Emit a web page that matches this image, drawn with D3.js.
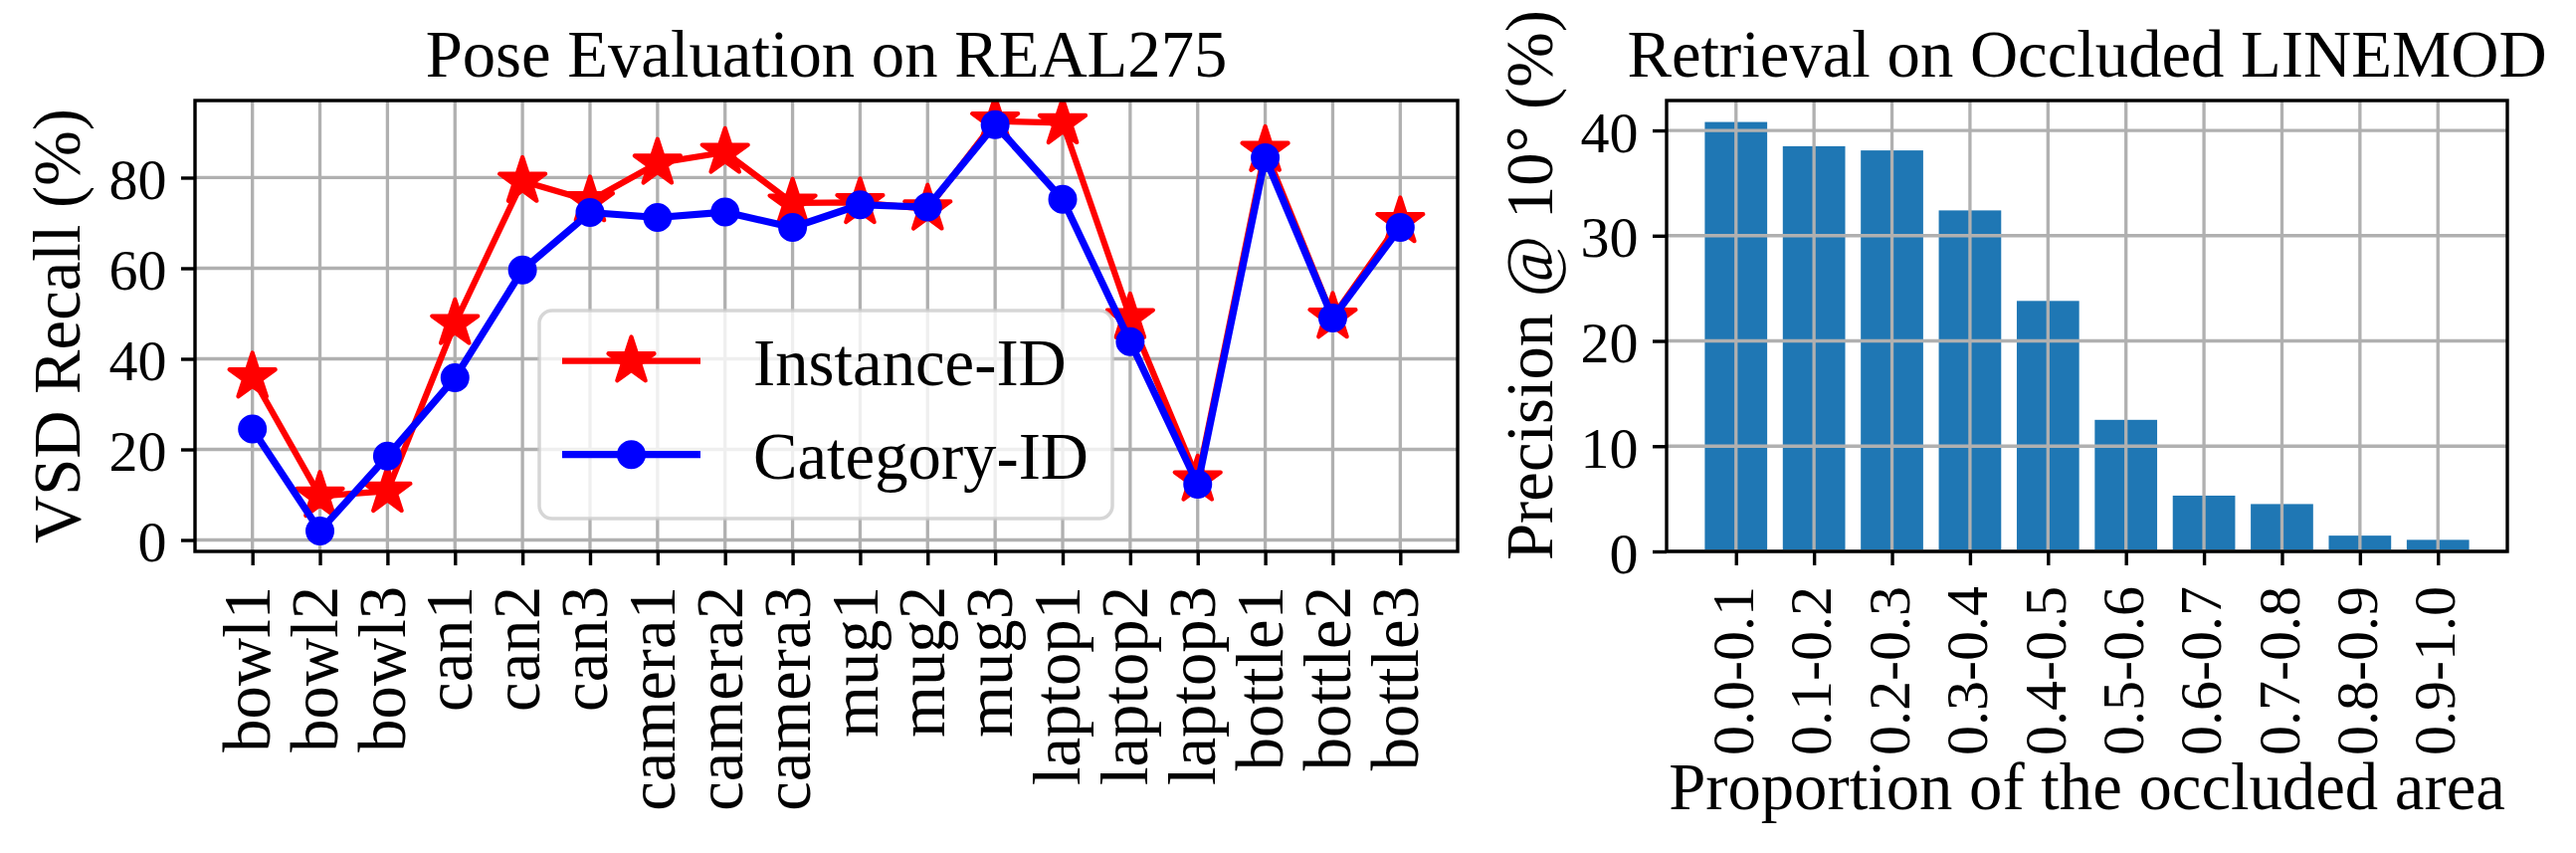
<!DOCTYPE html>
<html>
<head>
<meta charset="utf-8">
<script src="https://cdn.jsdelivr.net/npm/d3@7"></script>
<style>
  html, body { margin: 0; padding: 0; background: #ffffff; }
  svg { display: block; }
  text { font-family: "Liberation Serif", "Times New Roman", Times, serif; fill: #000; }
</style>
</head>
<body>
<svg id="chart" width="2589" height="857"></svg>
<script>
// ---------------- data ----------------
const categories = ["bowl1","bowl2","bowl3","can1","can2","can3","camera1","camera2","camera3",
                    "mug1","mug2","mug3","laptop1","laptop2","laptop3","bottle1","bottle2","bottle3"];
const instanceID = [36.0, 9.7, 10.8, 47.8, 79.2, 74.9, 83.2, 85.6, 74.4, 74.5, 73.1, 92.5, 92.1, 49.1, 13.3, 86.0, 49.2, 70.3];
const categoryID = [24.5, 2.0, 18.5, 35.8, 59.6, 72.3, 71.2, 72.4, 69.0, 74.0, 73.5, 91.7, 75.2, 43.8, 12.3, 84.4, 49.0, 69.0];
const leftYTicks = [0, 20, 40, 60, 80];
const seriesNames = ["Instance-ID", "Category-ID"];

const occlusionBins = ["0.0-0.1","0.1-0.2","0.2-0.3","0.3-0.4","0.4-0.5","0.5-0.6","0.6-0.7","0.7-0.8","0.8-0.9","0.9-1.0"];
const precision10 = [40.8, 38.5, 38.1, 32.4, 23.8, 12.5, 5.3, 4.5, 1.5, 1.1];
const rightYTicks = [0, 10, 20, 30, 40];

// ---------------- setup ----------------
const svg = d3.select("#chart");
svg.append("rect").attr("width", 2589).attr("height", 857).attr("fill", "#fff");

const GRID = "#b0b0b0", GRID_W = 3.3, SPINE_W = 3.4, TICK_LEN = 14;

// ============ LEFT: Pose Evaluation ============
const L = {x0: 196, x1: 1465, y0: 101, y1: 554};
const xL = d3.scalePoint().domain(categories).range([L.x0, L.x1]).padding(0.85);
const allVals = instanceID.concat(categoryID);
const [vmin, vmax] = d3.extent(allVals);
const pad = (vmax - vmin) * 0.05;
const yL = d3.scaleLinear().domain([vmin - pad, vmax + pad]).range([L.y1, L.y0]);

const gL = svg.append("g");
svg.append("clipPath").attr("id", "clipL").append("rect")
  .attr("x", L.x0).attr("y", L.y0).attr("width", L.x1 - L.x0).attr("height", L.y1 - L.y0);

// grid
gL.selectAll(".vgrid").data(categories).join("line")
  .attr("x1", d => xL(d)).attr("x2", d => xL(d)).attr("y1", L.y0).attr("y2", L.y1)
  .attr("stroke", GRID).attr("stroke-width", GRID_W);
gL.selectAll(".hgrid").data(leftYTicks).join("line")
  .attr("x1", L.x0).attr("x2", L.x1).attr("y1", d => yL(d)).attr("y2", d => yL(d))
  .attr("stroke", GRID).attr("stroke-width", GRID_W);

// series
const plotL = gL.append("g").attr("clip-path", "url(#clipL)");
const lineGen = d3.line().x((d, i) => xL(categories[i])).y(d => yL(d));
const starR = 24.2, circR = 12.4, mew = 4.2;
const starPath = d3.symbol(d3.symbolStar, starR * starR / 0.8908130915292852)();
const circPath = d3.symbol(d3.symbolCircle, Math.PI * circR * circR)();

plotL.append("path").datum(instanceID).attr("d", lineGen)
  .attr("fill", "none").attr("stroke", "#ff0000").attr("stroke-width", 6.25).attr("stroke-linejoin", "round");
plotL.selectAll(".star").data(instanceID).join("path")
  .attr("d", starPath)
  .attr("transform", (d, i) => `translate(${xL(categories[i])},${yL(d)})`)
  .attr("fill", "#ff0000").attr("stroke", "#ff0000").attr("stroke-width", mew).attr("stroke-linejoin", "round");

plotL.append("path").datum(categoryID).attr("d", lineGen)
  .attr("fill", "none").attr("stroke", "#0000ff").attr("stroke-width", 7.2).attr("stroke-linejoin", "round");
plotL.selectAll(".circ").data(categoryID).join("path")
  .attr("d", circPath)
  .attr("transform", (d, i) => `translate(${xL(categories[i])},${yL(d)})`)
  .attr("fill", "#0000ff").attr("stroke", "#0000ff").attr("stroke-width", mew);

// spines
gL.append("rect").attr("x", L.x0).attr("y", L.y0).attr("width", L.x1 - L.x0).attr("height", L.y1 - L.y0)
  .attr("fill", "none").attr("stroke", "#000").attr("stroke-width", SPINE_W);

// axes
const axLx = gL.append("g").attr("transform", `translate(0,${L.y1})`)
  .call(d3.axisBottom(xL).tickSize(TICK_LEN).tickSizeOuter(0));
const axLy = gL.append("g").attr("transform", `translate(${L.x0},0)`)
  .call(d3.axisLeft(yL).tickValues(leftYTicks).tickSize(TICK_LEN).tickSizeOuter(0));
[axLx, axLy].forEach(a => {
  a.select(".domain").remove();
  a.selectAll(".tick line").attr("stroke", "#000").attr("stroke-width", SPINE_W);
});
axLx.selectAll(".tick text")
  .attr("transform", "rotate(-90)").attr("text-anchor", "end")
  .attr("x", -35).attr("y", 16.7).attr("dy", null)
  .style("font-size", "66.7px").style("font-family", '"Liberation Serif", serif');
axLy.selectAll(".tick text")
  .attr("x", -28.6).attr("dy", null).attr("y", 21)
  .style("font-size", "58px").style("font-family", '"Liberation Serif", serif');

// legend
const lg = gL.append("g");
lg.append("rect").attr("x", 542).attr("y", 312).attr("width", 576).attr("height", 209).attr("rx", 13)
  .attr("fill", "#fff").attr("fill-opacity", 0.8)
  .attr("stroke", "#cccccc").attr("stroke-opacity", 0.8).attr("stroke-width", 3.5);
const legRows = [
  {name: seriesNames[0], color: "#ff0000", path: starPath, y: 362.7, w: 6.25},
  {name: seriesNames[1], color: "#0000ff", path: circPath, y: 456.7, w: 7.2}
];
legRows.forEach(r => {
  lg.append("line").attr("x1", 565).attr("x2", 704).attr("y1", r.y).attr("y2", r.y)
    .attr("stroke", r.color).attr("stroke-width", r.w);
  lg.append("path").attr("d", r.path).attr("transform", `translate(634.5,${r.y})`)
    .attr("fill", r.color).attr("stroke", r.color).attr("stroke-width", mew).attr("stroke-linejoin", "round");
  lg.append("text").attr("x", 757).attr("y", r.y + 24.5).style("font-size", "66.7px").text(r.name);
});

// title & labels
gL.append("text").attr("x", (L.x0 + L.x1) / 2).attr("y", 77).attr("text-anchor", "middle")
  .style("font-size", "66.7px").text("Pose Evaluation on REAL275");
gL.append("text").attr("transform", `translate(80,${(L.y0 + L.y1) / 2}) rotate(-90)`)
  .attr("text-anchor", "middle").style("font-size", "66.7px").text("VSD Recall (%)");

// ============ RIGHT: Retrieval ============
const R = {x0: 1675, x1: 2520, y0: 101, y1: 554};
const idx = d3.range(occlusionBins.length);
const xR = d3.scaleLinear().domain([-0.4 - 0.05 * 9.8, 9.4 + 0.05 * 9.8]).range([R.x0, R.x1]);
const yR = d3.scaleLinear().domain([0, d3.max(precision10) * 1.05]).range([R.y1, R.y0]);
const gR = svg.append("g");

gR.selectAll(".bar").data(precision10).join("rect")
  .attr("x", (d, i) => xR(i - 0.4)).attr("width", (d, i) => xR(i + 0.4) - xR(i - 0.4))
  .attr("y", d => yR(d)).attr("height", d => yR(0) - yR(d))
  .attr("fill", "#1f77b4");

gR.selectAll(".vgrid").data(idx).join("line")
  .attr("x1", d => xR(d)).attr("x2", d => xR(d)).attr("y1", R.y0).attr("y2", R.y1)
  .attr("stroke", GRID).attr("stroke-width", GRID_W);
gR.selectAll(".hgrid").data(rightYTicks).join("line")
  .attr("x1", R.x0).attr("x2", R.x1).attr("y1", d => yR(d)).attr("y2", d => yR(d))
  .attr("stroke", GRID).attr("stroke-width", GRID_W);

gR.append("rect").attr("x", R.x0).attr("y", R.y0).attr("width", R.x1 - R.x0).attr("height", R.y1 - R.y0)
  .attr("fill", "none").attr("stroke", "#000").attr("stroke-width", SPINE_W);

const axRx = gR.append("g").attr("transform", `translate(0,${R.y1})`)
  .call(d3.axisBottom(xR).tickValues(idx).tickFormat(i => occlusionBins[i]).tickSize(TICK_LEN).tickSizeOuter(0));
const axRy = gR.append("g").attr("transform", `translate(${R.x0},0)`)
  .call(d3.axisLeft(yR).tickValues(rightYTicks).tickSize(TICK_LEN).tickSizeOuter(0));
[axRx, axRy].forEach(a => {
  a.select(".domain").remove();
  a.selectAll(".tick line").attr("stroke", "#000").attr("stroke-width", SPINE_W);
});
axRx.selectAll(".tick text")
  .attr("transform", "rotate(-90)").attr("text-anchor", "end")
  .attr("x", -35).attr("y", 16.7).attr("dy", null)
  .style("font-size", "60px").style("font-family", '"Liberation Serif", serif');
axRy.selectAll(".tick text")
  .attr("x", -28.6).attr("dy", null).attr("y", 21)
  .style("font-size", "58px").style("font-family", '"Liberation Serif", serif');

gR.append("text").attr("x", (R.x0 + R.x1) / 2).attr("y", 77).attr("text-anchor", "middle")
  .style("font-size", "66.7px").text("Retrieval on Occluded LINEMOD");
gR.append("text").attr("x", (R.x0 + R.x1) / 2).attr("y", 813).attr("text-anchor", "middle")
  .style("font-size", "66.7px").text("Proportion of the occluded area");
gR.append("text").attr("transform", `translate(1560,563) rotate(-90)`)
  .attr("text-anchor", "start").style("font-size", "66.7px").text("Precision @ 10° (%)");
</script>
</body>
</html>
